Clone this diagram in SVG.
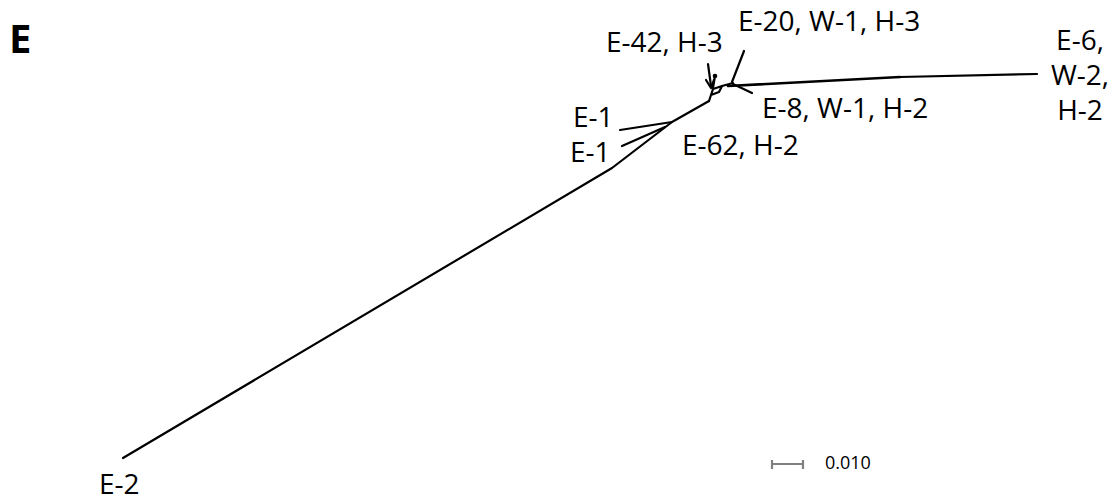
<svg xmlns="http://www.w3.org/2000/svg" width="1117" height="502" viewBox="0 0 1117 502">
<style>
.lbl{font-family:"Open Sans","Liberation Sans",sans-serif;font-size:28px;fill:#000}
.br{fill:none;stroke:#000;stroke-width:2.2;stroke-linejoin:round;stroke-linecap:round}
</style>
<rect width="1117" height="502" fill="#fff"/>
<text x="9" y="53" style="font-family:'Open Sans','Liberation Sans',sans-serif;font-weight:bold;font-size:40px">E</text>
<g id="connectors">
<polyline class="br" points="123,458 612,168 672,122 709,101"/>
<polyline class="br" points="620,130 672,122"/>
<polyline class="br" points="622,146 665,127"/>
<polyline class="br" points="709,101 711,95 719,92 722,86 713,89 711,95"/>
<polyline class="br" points="722,86 733,83"/>
<polyline class="br" points="708,64 711,86"/>
<polyline class="br" points="706,80 711,88 714,80"/>
<polyline class="br" points="715,76 713,88"/>
<circle cx="715" cy="76" r="2.3"/>
<polyline class="br" points="744,51 732,82"/>
<polyline class="br" points="733,84 752,93"/>
<polyline class="br" points="728,86 900,77" style="stroke-width:2.6"/>
<polyline class="br" points="900,77 1037,74"/>
</g>
<g id="n-e20"><text class="lbl" x="738" y="31">E-20, W-1, H-3</text></g>
<g id="n-e42"><text class="lbl" x="606" y="52">E-42, H-3</text></g>
<g id="n-e6" text-anchor="middle"><text class="lbl" x="1080" y="50">E-6,</text><text class="lbl" x="1080" y="85">W-2,</text><text class="lbl" x="1080" y="120">H-2</text></g>
<g id="n-e8"><text class="lbl" x="762" y="118">E-8, W-1, H-2</text></g>
<g id="n-e1a"><text class="lbl" x="573" y="127">E-1</text></g>
<g id="n-e1b"><text class="lbl" x="570" y="162">E-1</text></g>
<g id="n-e62"><text class="lbl" x="682" y="155">E-62, H-2</text></g>
<g id="n-e2"><text class="lbl" x="99" y="494">E-2</text></g>
<g id="scale">
<path d="M772,464H803M772,460V469M803,460V469" stroke="#808080" stroke-width="2.2" fill="none"/>
<text x="825" y="469" style="font-family:'Open Sans','Liberation Sans',sans-serif;font-size:18px">0.010</text>
</g>
</svg>
